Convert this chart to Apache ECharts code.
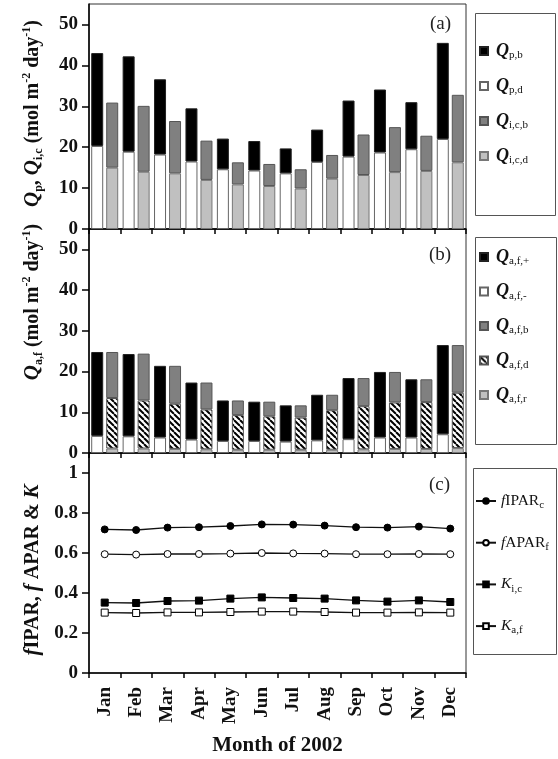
<!DOCTYPE html>
<html>
<head>
<meta charset="utf-8">
<script src="https://cdn.jsdelivr.net/npm/echarts@6/dist/echarts.min.js"></script>
<style>
html, body { margin: 0; padding: 0; background: #fff; }
#chart { width: 558px; height: 759px; }
</style>
</head>
<body>
<div id="chart"></div>
<script>
// Months of 2002
const months = ['Jan', 'Feb', 'Mar', 'Apr', 'May', 'Jun', 'Jul', 'Aug', 'Sep', 'Oct', 'Nov', 'Dec'];

// (a) PAR above the canopy (p) and intercepted by the crown (i,c), beam (b) and diffuse (d), mol m-2 day-1
const qpDiffuse  = [20.3, 18.9, 18.2, 16.5, 14.6, 14.3, 13.6, 16.4, 17.7, 18.7, 19.5, 22.0];
const qpBeam     = [22.7, 23.3, 18.4, 13.0, 7.5, 7.2, 6.1, 7.9, 13.7, 15.4, 11.5, 23.5];
const qicDiffuse = [15.0, 14.0, 13.6, 12.0, 10.9, 10.5, 9.9, 12.3, 13.2, 13.9, 14.2, 16.3];
const qicBeam    = [15.9, 16.1, 12.8, 9.6, 5.4, 5.4, 4.7, 5.8, 9.9, 11.0, 8.6, 16.5];

// (b) PAR absorbed by the foliage, mol m-2 day-1
const qafMinus   = [4.2, 4.1, 3.8, 3.3, 2.95, 2.95, 2.8, 3.1, 3.4, 3.8, 3.8, 4.6];
const qafPlus    = [20.6, 20.2, 17.6, 14.0, 9.95, 9.65, 8.9, 11.2, 15.0, 16.1, 14.3, 21.9];
const qafR       = [1.1, 1.1, 1.0, 0.9, 0.8, 0.8, 0.8, 0.8, 0.9, 1.0, 1.0, 1.2];
const qafD       = [12.4, 11.8, 11.1, 9.8, 8.5, 8.2, 7.9, 9.7, 10.6, 11.4, 11.5, 13.6];
const qafB       = [11.3, 11.5, 9.3, 6.6, 3.6, 3.6, 3.0, 3.8, 6.9, 7.5, 5.6, 11.7];

// (c) fractions and extinction coefficients
const fiparC = [0.718, 0.715, 0.727, 0.729, 0.735, 0.743, 0.742, 0.737, 0.729, 0.727, 0.732, 0.722];
const faparF = [0.594, 0.592, 0.595, 0.595, 0.597, 0.600, 0.598, 0.597, 0.594, 0.594, 0.595, 0.594];
const kIC    = [0.352, 0.350, 0.360, 0.362, 0.372, 0.378, 0.375, 0.372, 0.363, 0.357, 0.363, 0.355];
const kAF    = [0.302, 0.300, 0.303, 0.303, 0.305, 0.307, 0.307, 0.305, 0.302, 0.302, 0.303, 0.302];

// tick labels
const fluxTicks = [0, 10, 20, 30, 40, 50];
const fracTicks = [0, 0.2, 0.4, 0.6, 0.8, 1];

const SERIF = '"Liberation Serif", "DejaVu Serif", serif';

// diagonal hatch used for the diffuse absorbed component
function hatchPattern() {
  const c = document.createElement('canvas');
  c.width = 6; c.height = 6;
  const g = c.getContext('2d');
  g.fillStyle = '#fff';
  g.fillRect(0, 0, 6, 6);
  g.strokeStyle = '#000';
  g.lineWidth = 2;
  for (const k of [-6, 0, 6]) {
    g.beginPath();
    g.moveTo(k, 0);
    g.lineTo(k + 6, 6);
    g.stroke();
  }
  return c;
}
const hatch = { image: hatchPattern(), repeat: 'repeat' };

// rich text pieces for symbols with sub/superscripts
const nameRich = {
  q:  { fontFamily: SERIF, fontStyle: 'italic', fontWeight: 'bold', fontSize: 21, lineHeight: 24, color: '#111' },
  n:  { fontFamily: SERIF, fontWeight: 'bold', fontSize: 20, lineHeight: 24, color: '#111' },
  sb: { fontFamily: SERIF, fontWeight: 'bold', fontSize: 12, lineHeight: 12, verticalAlign: 'bottom', color: '#111' },
  sp: { fontFamily: SERIF, fontWeight: 'bold', fontSize: 12, lineHeight: 12, verticalAlign: 'top', color: '#111' }
};
function legendRich(size) {
  return {
    q: { fontFamily: SERIF, fontStyle: 'italic', fontWeight: 'bold', fontSize: 18, lineHeight: 20, color: '#111' },
    i: { fontFamily: SERIF, fontStyle: 'italic', fontSize: size, lineHeight: 20, color: '#111' },
    t: { fontFamily: SERIF, fontSize: size, lineHeight: 20, color: '#111' },
    s: { fontFamily: SERIF, fontSize: 11, lineHeight: 11, verticalAlign: 'bottom', color: '#111' }
  };
}
const legendText = {
  'Qp,b': '{q|Q}{s|p,b}',
  'Qp,d': '{q|Q}{s|p,d}',
  'Qi,c,b': '{q|Q}{s|i,c,b}',
  'Qi,c,d': '{q|Q}{s|i,c,d}',
  'Qa,f,+': '{q|Q}{s|a,f,+}',
  'Qa,f,-': '{q|Q}{s|a,f,-}',
  'Qa,f,b': '{q|Q}{s|a,f,b}',
  'Qa,f,d': '{q|Q}{s|a,f,d}',
  'Qa,f,r': '{q|Q}{s|a,f,r}',
  'fIPARc': '{i|f}{t|IPAR}{s|c}',
  'fAPARf': '{i|f}{t|APAR}{s|f}',
  'Ki,c': '{i|K}{s|i,c}',
  'Ka,f': '{i|K}{s|a,f}'
};

const grids = [
  { left: 89, right: 92, top: 4, height: 225 },
  { left: 89, right: 92, top: 229, height: 224 },
  { left: 89, right: 92, top: 453, height: 220 }
].map(g => Object.assign(g, { show: true, borderColor: '#333', borderWidth: 1, containLabel: false }));

const axisLine = { show: true, lineStyle: { color: '#000', width: 1.5 } };
const tickLabelStyle = { fontFamily: SERIF, fontWeight: 'bold', fontSize: 19, color: '#111' };

function catAxis(idx, withLabels) {
  return {
    type: 'category', gridIndex: idx, data: months, boundaryGap: true,
    axisLine: axisLine,
    axisTick: { show: true, length: 5, lineStyle: { color: '#000', width: 1.5 } },
    axisLabel: withLabels
      ? Object.assign({ show: true, rotate: 90, margin: 14, interval: 0 }, tickLabelStyle)
      : { show: false },
    name: withLabels ? 'Month of 2002' : '',
    nameLocation: 'middle', nameGap: 62,
    nameTextStyle: { fontFamily: SERIF, fontWeight: 'bold', fontSize: 21, color: '#111' },
    splitLine: { show: false }
  };
}

function valAxis(idx, max, ticks, name, pad, fmt) {
  return {
    type: 'value', gridIndex: idx, min: 0, max: max,
    axisLine: axisLine,
    axisTick: { show: true, length: 7, customValues: ticks, lineStyle: { color: '#000', width: 1.5 } },
    axisLabel: Object.assign({ show: true, margin: 11, customValues: ticks, formatter: fmt }, tickLabelStyle),
    splitLine: { show: false },
    name: name, nameLocation: 'middle', nameRotate: 90, nameGap: 44,
    nameTextStyle: { rich: nameRich, padding: pad }
  };
}

const barBase = { type: 'bar', barWidth: 12, barGap: '25%' };
function bar(name, axis, stack, data, color, border) {
  return Object.assign({}, barBase, {
    name: name, xAxisIndex: axis, yAxisIndex: axis, stack: stack, data: data,
    itemStyle: { color: color, borderColor: border || '#555', borderWidth: 1 }
  });
}
function line(name, data, symbol, fill) {
  return {
    type: 'line', name: name, xAxisIndex: 2, yAxisIndex: 2, data: data,
    symbol: symbol, symbolSize: 7,
    lineStyle: { color: '#111', width: 1.3 },
    itemStyle: { color: fill, borderColor: '#000', borderWidth: 1 }
  };
}

function legend(items, top, left, gap, w, h, icon, textSize, textPad) {
  return {
    orient: 'vertical', left: left, top: top, padding: 0,
    itemGap: gap, itemWidth: w, itemHeight: h,
    data: items.map(n => (icon ? { name: n, icon: icon } : { name: n })),
    formatter: n => legendText[n],
    textStyle: { rich: legendRich(textSize), padding: [0, 0, 0, textPad] },
    selectedMode: false
  };
}

const fmtFlux = v => String(v);
const fmtFrac = v => (v === 0 ? '0' : v === 1 ? '1' : v.toFixed(1));

const option = {
  animation: false,
  backgroundColor: '#fff',
  grid: grids,
  xAxis: [catAxis(0, false), catAxis(1, false), catAxis(2, true)],
  yAxis: [
    valAxis(0, 55, fluxTicks, '{q|Q}{sb|p}{n|, }{q|Q}{sb|i,c}{n| (mol m}{sp|-2}{n| day}{sp|-1}{n|)}', [0, 0, 0, 6], fmtFlux),
    valAxis(1, 55, fluxTicks, '{q|Q}{sb|a,f}{n| (mol m}{sp|-2}{n| day}{sp|-1}{n|)}', [0, 0, 0, 78], fmtFlux),
    valAxis(2, 1.1, fracTicks, '{q|f}{n|IPAR, }{q|f}{n| APAR & }{q|K}', [0, 14, 0, 0], fmtFrac)
  ],
  legend: [
    legend(['Qp,b', 'Qp,d', 'Qi,c,b', 'Qi,c,d'], 42, 479, 16, 8, 8, 'rect', 17, 3),
    legend(['Qa,f,+', 'Qa,f,-', 'Qa,f,b', 'Qa,f,d', 'Qa,f,r'], 248, 479, 15.5, 8, 8, 'rect', 17, 3),
    legend(['fIPARc', 'fAPARf', 'Ki,c', 'Ka,f'], 493, 475, 23.7, 20, 7, null, 15.5, 0)
  ],
  graphic: [
    { type: 'rect', shape: { x: 475.5, y: 13.5, width: 80, height: 202 }, style: { fill: 'none', stroke: '#555', lineWidth: 1 } },
    { type: 'rect', shape: { x: 475.5, y: 237.5, width: 81, height: 207 }, style: { fill: 'none', stroke: '#555', lineWidth: 1 } },
    { type: 'rect', shape: { x: 473.5, y: 468.5, width: 83, height: 186 }, style: { fill: 'none', stroke: '#555', lineWidth: 1 } },
    { type: 'text', left: 430, top: 15, style: { text: '(a)', font: '19px ' + SERIF, fill: '#222' } },
    { type: 'text', left: 429, top: 246, style: { text: '(b)', font: '19px ' + SERIF, fill: '#222' } },
    { type: 'text', left: 429, top: 476, style: { text: '(c)', font: '19px ' + SERIF, fill: '#222' } }
  ],
  series: [
    bar('Qp,d', 0, 'p', qpDiffuse, '#fff', '#666'),
    bar('Qp,b', 0, 'p', qpBeam, '#000', '#222'),
    bar('Qi,c,d', 0, 'i', qicDiffuse, '#c0c0c0', '#777'),
    bar('Qi,c,b', 0, 'i', qicBeam, '#808080', '#555'),

    bar('Qa,f,-', 1, 'pm', qafMinus, '#fff', '#666'),
    bar('Qa,f,+', 1, 'pm', qafPlus, '#000', '#222'),
    bar('Qa,f,r', 1, 'abs', qafR, '#c0c0c0', '#777'),
    bar('Qa,f,d', 1, 'abs', qafD, hatch, '#555'),
    bar('Qa,f,b', 1, 'abs', qafB, '#808080', '#555'),

    line('fIPARc', fiparC, 'circle', '#000'),
    line('fAPARf', faparF, 'circle', '#fff'),
    line('Ki,c', kIC, 'rect', '#000'),
    line('Ka,f', kAF, 'rect', '#fff')
  ]
};

const chart = echarts.init(document.getElementById('chart'), null, { renderer: 'canvas' });
chart.setOption(option);
</script>
</body>
</html>
